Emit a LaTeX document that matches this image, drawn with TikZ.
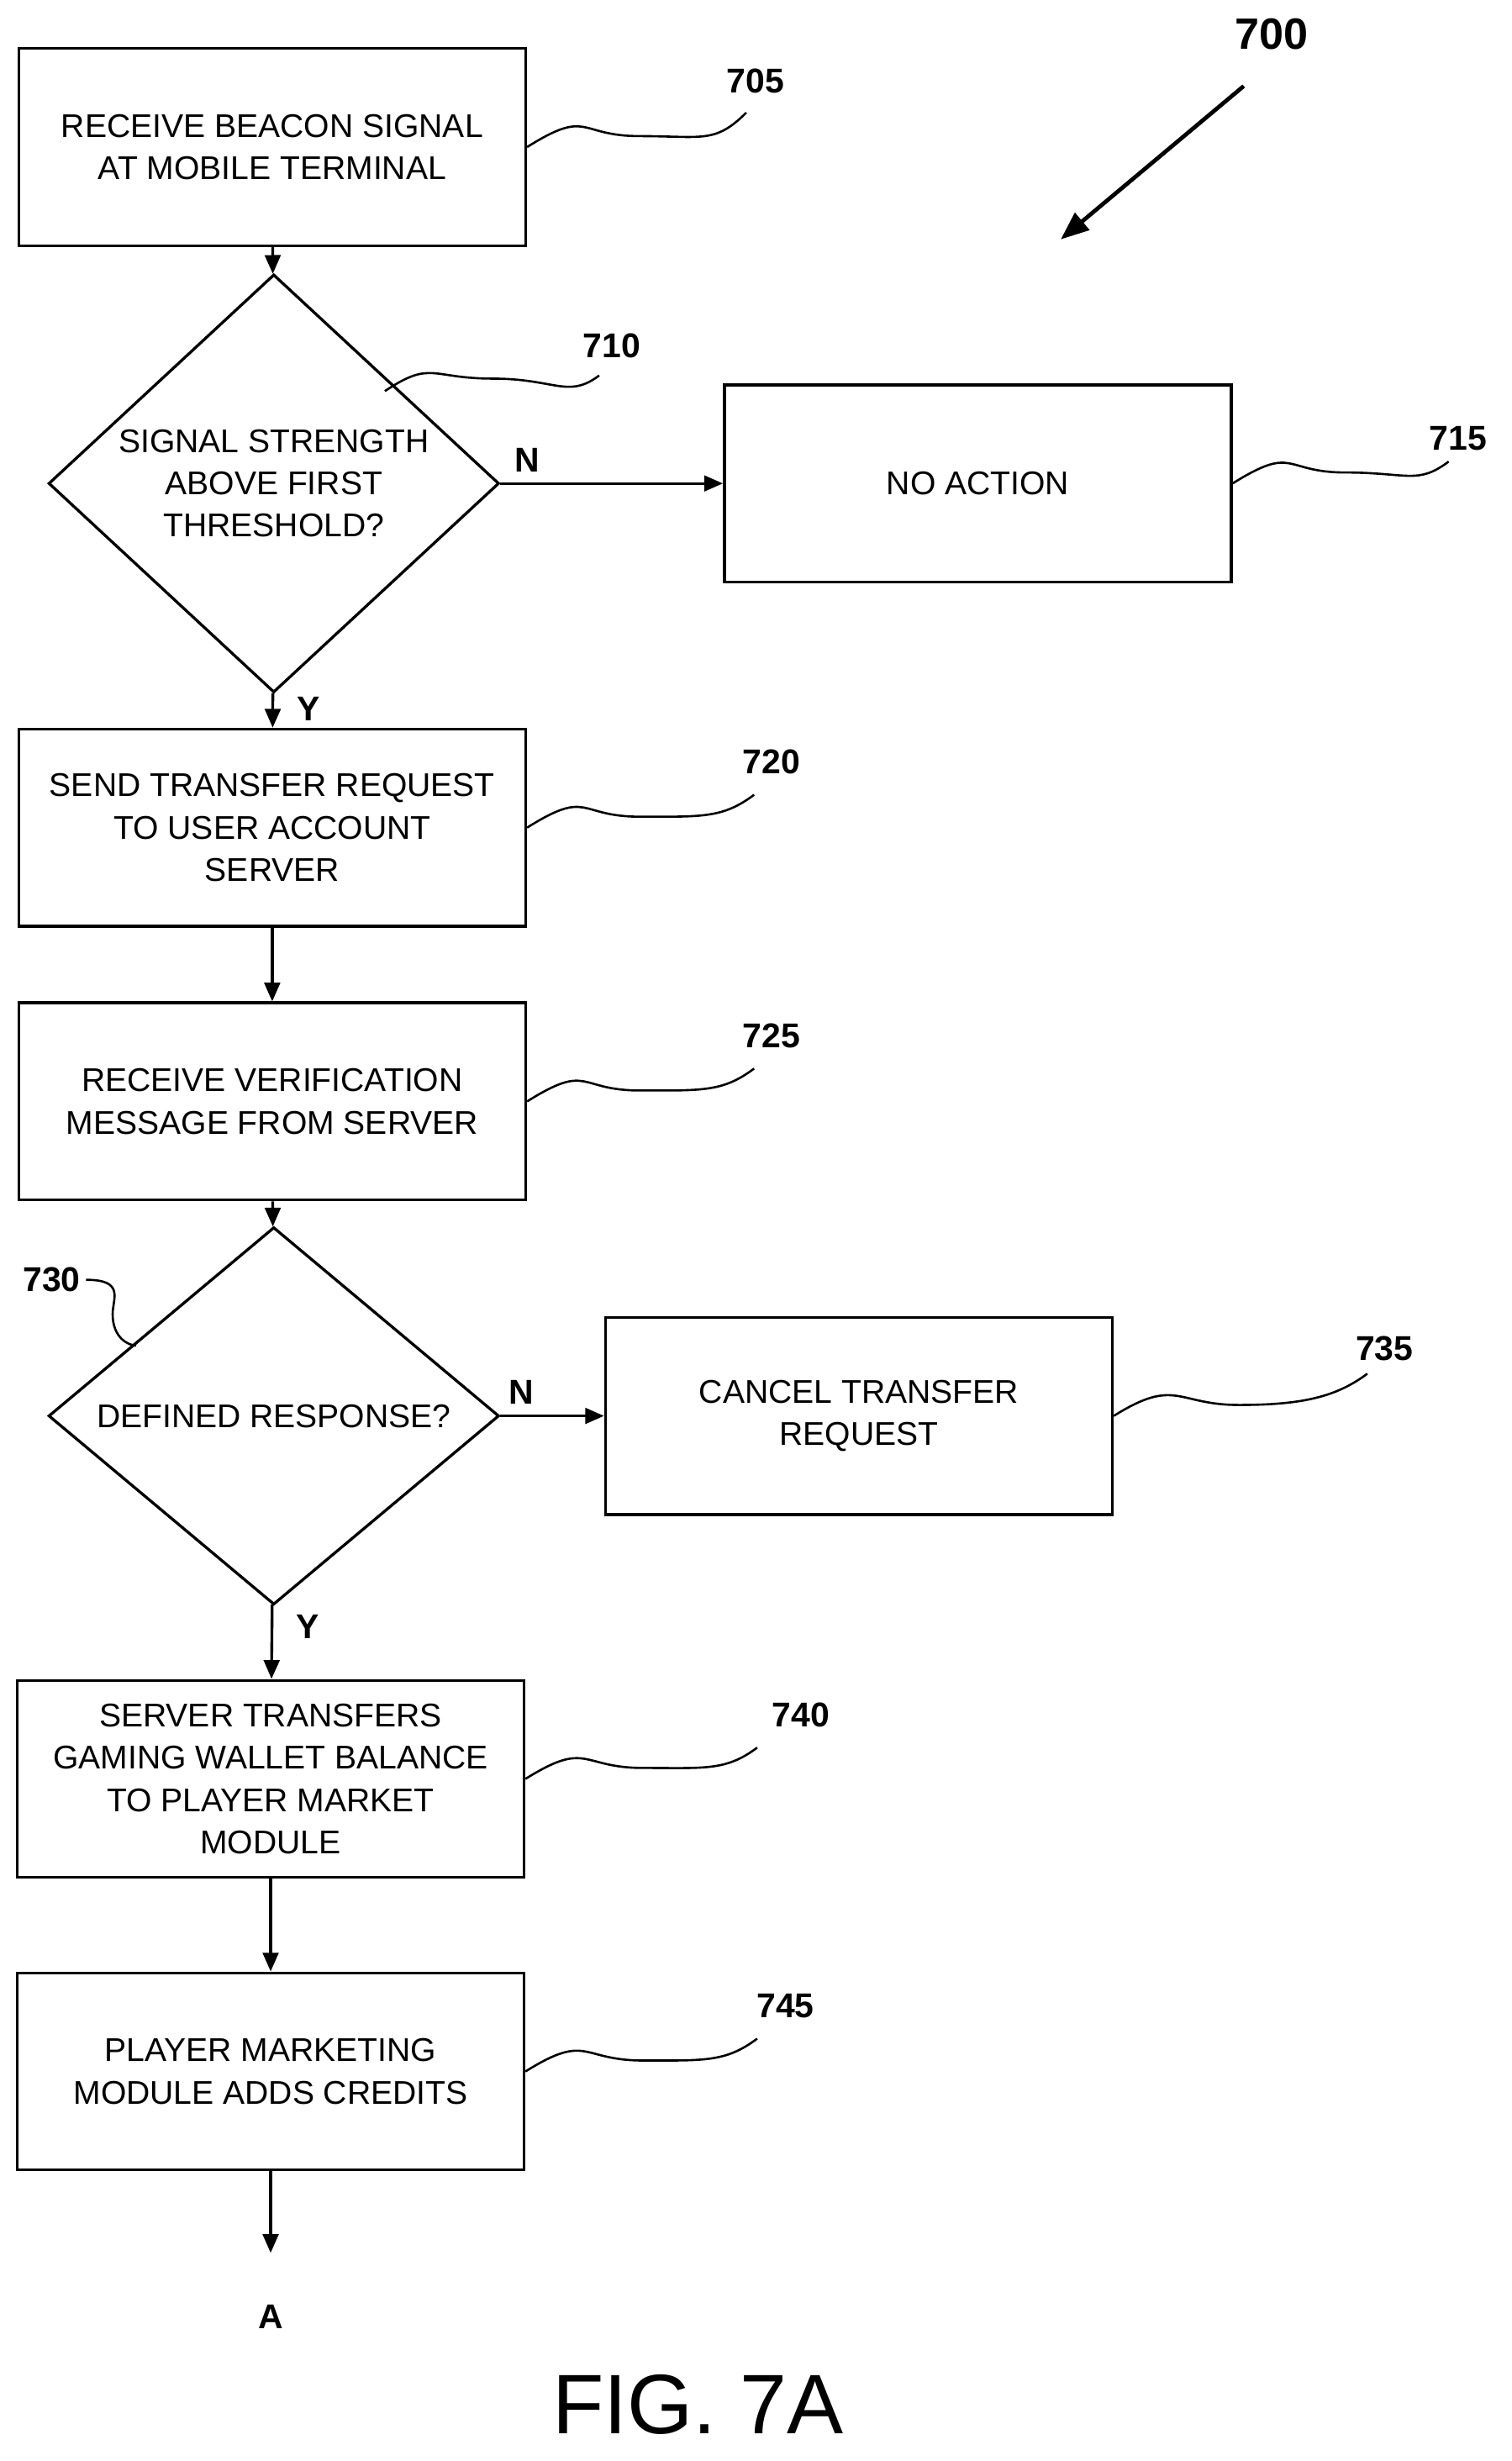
\documentclass[tikz,border=0pt]{standalone}
\usepackage{fontspec}
\setmainfont{Liberation Sans}
\usetikzlibrary{shapes.geometric,arrows.meta}
\begin{document}
\begin{tikzpicture}[x=0.5pt,y=-0.5pt,line width=0.9pt,
  box/.style={draw,minimum width=162pt,minimum height=63pt,align=center,font=\fontsize{10.5}{13.5}\selectfont,inner sep=2pt},
  dia/.style={draw,diamond,minimum width=144pt,minimum height=107.5pt,inner sep=0pt,align=center,font=\fontsize{10.5}{13.5}\selectfont},
  lab/.style={font=\bfseries\fontsize{11}{13}\selectfont},
  arr/.style={-{Triangle[length=6pt,width=5pt]}},
  sq/.style={line width=0.7pt}]
\useasboundingbox (0,0) rectangle (966,1573);
\node[box] (b705) at (174,94) {RECEIVE BEACON SIGNAL\\AT MOBILE TERMINAL};
\node[dia] (d710) at (175,309) {SIGNAL STRENGTH\\ABOVE FIRST\\THRESHOLD?};
\node[box] (b715) at (625,309) {NO ACTION};
\node[box] (b720) at (174,529) {SEND TRANSFER REQUEST\\TO USER ACCOUNT\\SERVER};
\node[box] (b725) at (174,704) {RECEIVE VERIFICATION\\MESSAGE FROM SERVER};
\node[dia] (d730) at (175,905) {DEFINED RESPONSE?};
\node[box] (b735) at (549,905) {CANCEL TRANSFER\\REQUEST};
\node[box] (b740) at (173,1137) {SERVER TRANSFERS\\GAMING WALLET BALANCE\\TO PLAYER MARKET\\MODULE};
\node[box] (b745) at (173,1324) {PLAYER MARKETING\\MODULE ADDS CREDITS};
\coordinate (aend) at (173,1440);
\node[lab] (A) at (173,1481) {A};
\node[font=\fontsize{27}{30}\selectfont] (fig) at (446,1537) {FIG. 7A};
\node[lab,font=\bfseries\fontsize{14}{16}\selectfont] (l700) at (813,22) {700};
\coordinate (a700s) at (795,55);
\coordinate (a700e) at (678,153);
\draw[line width=1.3pt,-{Triangle[length=9pt,width=7pt]}] (a700s) -- (a700e);

\draw[arr] (b705) -- (d710);
\draw[arr] (d710) -- node[lab,pos=0.12,above]{N} (b715);
\draw[arr] (d710) -- (b720) node[lab,pos=0.45,right=4pt]{Y};
\draw[arr] (b720) -- (b725);
\draw[arr] (b725) -- (d730);
\draw[arr] (d730) -- node[lab,pos=0.2,above]{N} (b735);
\draw[arr] (d730) -- (b740) node[lab,pos=0.3,right=4pt]{Y};
\draw[arr] (b740) -- (b745);
\draw[arr] (b745) -- (aend);

\node[lab] (l705) at (483,52) {705};
\node[lab] (l710) at (391,221) {710};
\node[lab] (l715) at (932,280) {715};
\node[lab] (l720) at (493,487) {720};
\node[lab] (l725) at (493,662) {725};
\node[lab] (l730) at (33,818) {730};
\node[lab] (l735) at (885,862) {735};
\node[lab] (l740) at (512,1096) {740};
\node[lab] (l745) at (502,1282) {745};

\draw[sq] (b705.east) .. controls +(40,-25) and +(-40,0) .. ++(72,-7) .. controls +(40,0) and +(-20,20) .. (477,72);
\draw[sq] (246,250) .. controls +(30,-20) and +(-40,0) .. (315,242) .. controls +(40,0) and +(-20,15) .. (383,240);
\draw[sq] (b715.east) .. controls +(40,-25) and +(-40,0) .. ++(72,-7) .. controls +(40,0) and +(-20,15) .. (926,295);
\draw[sq] (b720.east) .. controls +(40,-25) and +(-40,0) .. ++(72,-7) .. controls +(40,0) and +(-20,15) .. (482,508);
\draw[sq] (b725.east) .. controls +(40,-25) and +(-40,0) .. ++(72,-7) .. controls +(40,0) and +(-20,15) .. (482,683);
\draw[sq] (55,818) .. controls +(25,0) and +(0,-10) .. (72,840) .. controls +(0,15) and +(-5,0) .. (87,860);
\draw[sq] (b735.east) .. controls +(40,-25) and +(-40,0) .. ++(80,-7) .. controls +(40,0) and +(-20,15) .. (874,878);
\draw[sq] (b740.east) .. controls +(40,-25) and +(-40,0) .. ++(75,-7) .. controls +(40,0) and +(-20,15) .. (484,1117);
\draw[sq] (b745.east) .. controls +(40,-25) and +(-40,0) .. ++(75,-7) .. controls +(40,0) and +(-20,15) .. (484,1303);
\end{tikzpicture}
\end{document}
